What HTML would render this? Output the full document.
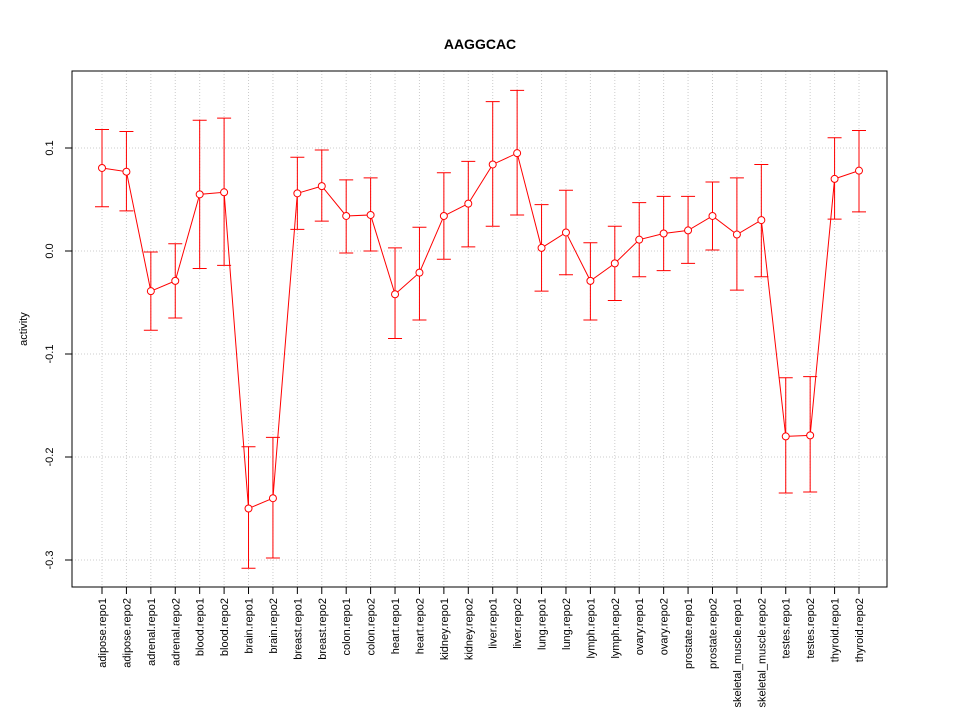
<!DOCTYPE html>
<html><head><meta charset="utf-8"><style>body{margin:0;background:#fff}svg{display:block;font-family:"Liberation Sans",sans-serif}</style></head>
<body>
<svg id="chart" width="960" height="720" xmlns="http://www.w3.org/2000/svg">
<text x="480" y="49" text-anchor="middle" font-weight="bold" font-size="14">AAGGCAC</text>
<text transform="translate(27,329) rotate(-90)" text-anchor="middle" font-size="11">activity</text>
<g id="grid"></g><g id="axes"></g><g id="marks"></g>
<rect x="72" y="71" width="815" height="516" fill="none" stroke="#000"/>
</svg>
<script>
const categories=["adipose.repo1","adipose.repo2","adrenal.repo1","adrenal.repo2","blood.repo1","blood.repo2","brain.repo1","brain.repo2","breast.repo1","breast.repo2","colon.repo1","colon.repo2","heart.repo1","heart.repo2","kidney.repo1","kidney.repo2","liver.repo1","liver.repo2","lung.repo1","lung.repo2","lymph.repo1","lymph.repo2","ovary.repo1","ovary.repo2","prostate.repo1","prostate.repo2","skeletal_muscle.repo1","skeletal_muscle.repo2","testes.repo1","testes.repo2","thyroid.repo1","thyroid.repo2"];
const values=[0.0806,0.077,-0.039,-0.029,0.055,0.057,-0.250,-0.240,0.056,0.063,0.034,0.035,-0.042,-0.021,0.034,0.046,0.084,0.095,0.003,0.018,-0.029,-0.012,0.011,0.017,0.020,0.034,0.016,0.030,-0.180,-0.179,0.070,0.078];
const upper=[0.118,0.116,-0.001,0.007,0.127,0.129,-0.190,-0.181,0.091,0.098,0.069,0.071,0.003,0.023,0.076,0.087,0.145,0.156,0.045,0.059,0.008,0.024,0.047,0.053,0.053,0.067,0.071,0.084,-0.123,-0.122,0.110,0.117];
const lower=[0.043,0.039,-0.077,-0.065,-0.017,-0.014,-0.308,-0.298,0.021,0.029,-0.002,0,-0.085,-0.067,-0.008,0.004,0.024,0.035,-0.039,-0.023,-0.067,-0.048,-0.025,-0.019,-0.012,0.001,-0.038,-0.025,-0.235,-0.234,0.031,0.038];
const yTicks=[0.1,0.0,-0.1,-0.2,-0.3];
const yTickLabels=["0.1","0.0","-0.1","-0.2","-0.3"];
const NS="http://www.w3.org/2000/svg";
function x(i){return 102+i*(859-102)/(categories.length-1);}
function y(v){return 251-v*1030;}
function mk(p,t,a){const e=document.createElementNS(NS,t);for(const k in a)e.setAttribute(k,a[k]);p.appendChild(e);return e;}
const grid=document.getElementById('grid'),axes=document.getElementById('axes'),marks=document.getElementById('marks');
categories.forEach((c,i)=>{
 const g=mk(grid,'line',{x1:x(i),x2:x(i),y1:71,y2:587,stroke:'#ccc','stroke-dasharray':'1,2'});
 
 
 const t=mk(axes,'line',{x1:x(i),x2:x(i),y1:587,y2:594,stroke:'#000'});
 
 
 const l=mk(axes,'text',{transform:`translate(${x(i)+4},598) rotate(-90)`,'text-anchor':'end','font-size':'11'});
 l.textContent=c;
 
 
});
yTicks.forEach((v,i)=>{
 const g=mk(grid,'line',{x1:72,x2:887,y1:y(v),y2:y(v),stroke:'#ccc','stroke-dasharray':'1,2'});
 
 
 const t=mk(axes,'line',{x1:65,x2:72,y1:y(v),y2:y(v),stroke:'#000'});
 
 
 const l=mk(axes,'text',{transform:`translate(53,${y(v)}) rotate(-90)`,'text-anchor':'middle','font-size':'11'});
 l.textContent=yTickLabels[i];
 
 
});
const line=mk(marks,'polyline',{points:values.map((v,i)=>x(i)+','+y(v)).join(' '),fill:'none',stroke:'#f00'});


values.forEach((v,i)=>{
 const e=mk(marks,'path',{d:`M${x(i)},${y(upper[i])}V${y(lower[i])}M${x(i)-7},${y(upper[i])}H${x(i)+7}M${x(i)-7},${y(lower[i])}H${x(i)+7}`,stroke:'#f00',fill:'none'});
 
 
 const p=mk(marks,'circle',{cx:x(i),cy:y(v),r:3.5,fill:'#fff',stroke:'#f00'});
 
 
});
</script>
</body></html>
